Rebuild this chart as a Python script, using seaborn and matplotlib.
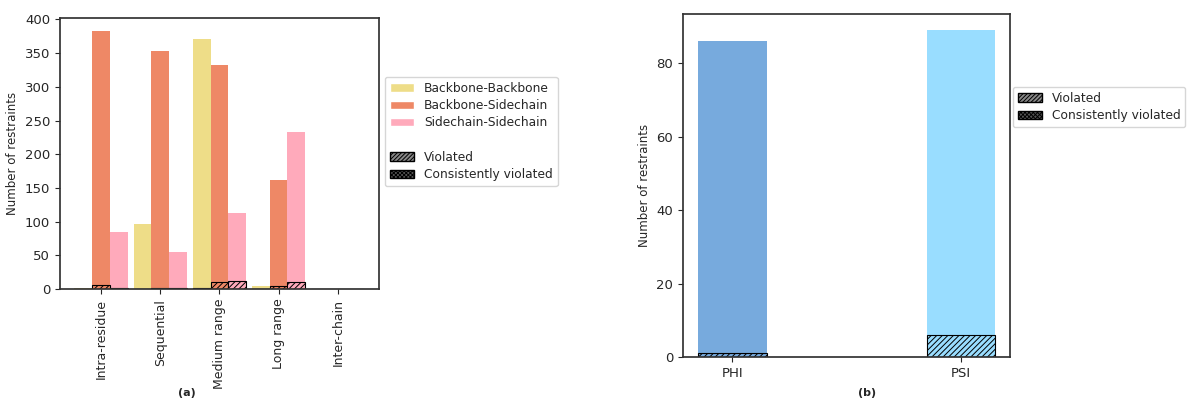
import pandas as pd
import matplotlib.pyplot as plt
import seaborn as sns
from matplotlib.patches import Patch

# distance restraints per range (panel a)
categories = ["Intra-residue", "Sequential", "Medium range", "Long range", "Inter-chain"]
types = ["Backbone-Backbone", "Backbone-Sidechain", "Sidechain-Sidechain"]
bb_total = [2, 97, 371, 4, 0]
bs_total = [383, 353, 332, 161, 0]
ss_total = [85, 55, 112, 233, 0]
bb_viol = [0, 0, 1, 0, 0]
bs_viol = [6, 2, 11, 4, 0]
ss_viol = [1, 2, 12, 10, 0]

# dihedral restraints (panel b)
angles = ["PHI", "PSI"]
angle_total = [86, 89]
angle_viol = [1, 6]

type_colors = ["#EEDD88", "#EE8866", "#FFAABB"]
angle_colors = ["#77AADD", "#99DDFF"]

sns.set_theme(style="ticks")
plt.rcParams["font.family"] = ["DejaVu Sans"]
plt.rcParams["hatch.linewidth"] = 0.7
plt.rcParams["axes.edgecolor"] = "#333333"
plt.rcParams["xtick.major.size"] = 3.5
plt.rcParams["ytick.major.size"] = 3.5
plt.rcParams["xtick.major.width"] = 0.8
plt.rcParams["ytick.major.width"] = 0.8

tot = pd.DataFrame({
    "range": categories * 3,
    "type": [t for t in types for _ in categories],
    "count": bb_total + bs_total + ss_total,
})
vio = pd.DataFrame({
    "range": categories * 3,
    "type": [t for t in types for _ in categories],
    "count": bb_viol + bs_viol + ss_viol,
})

fig = plt.figure(figsize=(11.9, 4.03), dpi=100)
ax1 = fig.add_axes([0.0504, 0.283, 0.268, 0.672])
ax2 = fig.add_axes([0.574, 0.114, 0.2748, 0.851])

# panel a
sns.barplot(data=tot, x="range", y="count", hue="type", order=categories,
            hue_order=types, palette=type_colors, width=0.9, saturation=1,
            errorbar=None, linewidth=0, legend=False, ax=ax1)
n_main = len(ax1.containers)
sns.barplot(data=vio, x="range", y="count", hue="type", order=categories,
            hue_order=types, palette=type_colors, width=0.9, saturation=1,
            errorbar=None, legend=False, ax=ax1)
for cont in ax1.containers[n_main:]:
    for p in cont.patches:
        p.set_hatch("//////")
        p.set_edgecolor("black")
        p.set_linewidth(0.8)

ax1.set_xlim(-0.695, 4.695)
ax1.set_ylim(0, 402)
ax1.set_yticks(range(0, 401, 50))
ax1.set_xlabel("")
ax1.set_ylabel("Number of restraints", fontsize=8.5)
ax1.tick_params(axis="y", labelsize=9.5)
ax1.tick_params(axis="x", labelsize=9, labelrotation=90)

handles = [Patch(facecolor=c, label=t) for c, t in zip(type_colors, types)]
handles.append(Patch(facecolor="none", edgecolor="none", label=" "))
handles.append(Patch(facecolor="#888888", edgecolor="black", hatch="////////", label="Violated"))
handles.append(Patch(facecolor="#555555", edgecolor="black", hatch="xxxxxxxx", label="Consistently violated"))
fig.legend(handles=handles, loc="upper left", bbox_to_anchor=(0.3235, 0.809),
           fontsize=8.8, frameon=True, borderaxespad=0, labelspacing=0.35)
fig.text(187 / 1190, 1 - 393 / 403, "(a)", fontsize=8, fontweight="bold",
         ha="center", va="center")

# panel b
ang = pd.DataFrame({"angle": angles, "count": angle_total})
ang_v = pd.DataFrame({"angle": angles, "count": angle_viol})
sns.barplot(data=ang, x="angle", y="count", hue="angle", palette=angle_colors,
            width=0.3, dodge=False, saturation=1, errorbar=None, linewidth=0,
            legend=False, ax=ax2)
n_main = len(ax2.containers)
sns.barplot(data=ang_v, x="angle", y="count", hue="angle", palette=angle_colors,
            width=0.3, dodge=False, saturation=1, errorbar=None,
            legend=False, ax=ax2)
for cont in ax2.containers[n_main:]:
    for p in cont.patches:
        p.set_hatch("//////")
        p.set_edgecolor("black")
        p.set_linewidth(0.8)

ax2.set_xlim(-0.215, 1.215)
ax2.set_ylim(0, 93.4)
ax2.set_yticks([0, 20, 40, 60, 80])
ax2.set_xlabel("")
ax2.set_ylabel("Number of restraints", fontsize=8.5)
ax2.tick_params(axis="both", labelsize=9.5)

handles2 = [
    Patch(facecolor="#888888", edgecolor="black", hatch="////////", label="Violated"),
    Patch(facecolor="#555555", edgecolor="black", hatch="xxxxxxxx", label="Consistently violated"),
]
fig.legend(handles=handles2, loc="upper left", bbox_to_anchor=(0.851, 0.784),
           fontsize=8.8, frameon=True, borderaxespad=0, labelspacing=0.35)
fig.text(867 / 1190, 1 - 393 / 403, "(b)", fontsize=8, fontweight="bold",
         ha="center", va="center")

fig.savefig("out.png", dpi=100)
